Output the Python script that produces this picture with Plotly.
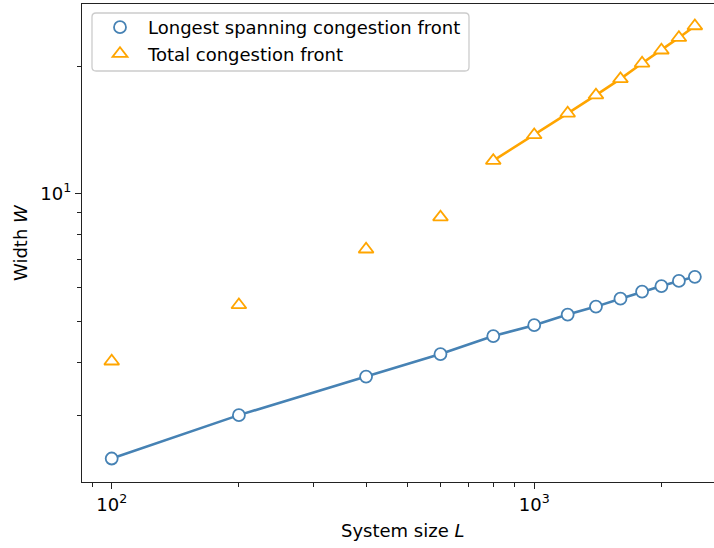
import plotly.graph_objects as go

# Data
L = [100, 200, 400, 600, 800, 1000, 1200, 1400, 1600, 1800, 2000, 2200, 2400]
W_longest = [2.37, 3.00, 3.70, 4.18, 4.61, 4.89, 5.18, 5.41, 5.65, 5.87, 6.05, 6.22, 6.36]
W_total = [4.02, 5.46, 7.39, 8.80, 11.96, 13.75, 15.47, 17.07, 18.65, 20.30, 21.79, 23.33, 24.86]
fit_start = 4  # orange line drawn from L=800 onwards

BLUE = "#4682B4"
ORANGE = "#FFA500"
FONT = "DejaVu Sans"
FS = 18

fig = go.Figure()

# connecting lines (not in legend)
fig.add_trace(go.Scatter(x=L, y=W_longest, mode="lines",
                         line=dict(color=BLUE, width=2.6), showlegend=False, hoverinfo="skip"))
fig.add_trace(go.Scatter(x=L[fit_start:], y=W_total[fit_start:], mode="lines",
                         line=dict(color=ORANGE, width=2.6), showlegend=False, hoverinfo="skip"))

# markers
fig.add_trace(go.Scatter(x=L, y=W_longest, mode="markers", name="Longest spanning congestion front",
                         marker=dict(symbol="circle", size=12, color="white",
                                     line=dict(color=BLUE, width=1.8))))
fig.add_trace(go.Scatter(x=L, y=W_total, mode="markers", name="Total congestion front",
                         marker=dict(symbol="triangle-up", size=13, color="white",
                                     line=dict(color=ORANGE, width=1.8))))

W, H = 714, 548
left, right, top, bottom = 82, 0, 4, 66
PW, PH = W - left - right, H - top - bottom


def px(xp):
    return (xp - left) / PW


def py(yp):
    return (H - bottom - yp) / PH


# legend frame (rounded box) in pixel terms
bx0, bx1, by0, by1, r = 92, 469, 13, 71, 4
path = (f"M {px(bx0 + r)},{py(by0)} L {px(bx1 - r)},{py(by0)} "
        f"Q {px(bx1)},{py(by0)} {px(bx1)},{py(by0 + r)} L {px(bx1)},{py(by1 - r)} "
        f"Q {px(bx1)},{py(by1)} {px(bx1 - r)},{py(by1)} L {px(bx0 + r)},{py(by1)} "
        f"Q {px(bx0)},{py(by1)} {px(bx0)},{py(by1 - r)} L {px(bx0)},{py(by0 + r)} "
        f"Q {px(bx0)},{py(by0)} {px(bx0 + r)},{py(by0)} Z")

x_minor = [90, 200, 300, 400, 500, 600, 700, 800, 900, 2000]
y_minor = [3, 4, 5, 6, 7, 8, 9, 20]

AX = "#222222"
fig.update_layout(
    width=W, height=H,
    margin=dict(l=left, r=right, t=top, b=bottom),
    paper_bgcolor="white", plot_bgcolor="white",
    font=dict(family=FONT, size=FS, color="black"),
    showlegend=True,
    legend=dict(x=px(92), y=py(9), xanchor="left", yanchor="top",
                bgcolor="rgba(0,0,0,0)", borderwidth=0,
                font=dict(family=FONT, size=FS, color="black"),
                itemwidth=46, tracegroupgap=0),
    shapes=[dict(type="path", path=path, xref="paper", yref="paper",
                 fillcolor="rgba(255,255,255,0.8)", line=dict(color="#cccccc", width=1.3),
                 layer="above")],
    xaxis=dict(type="log", range=[1.9297, 3.4255],
               showgrid=False, zeroline=False,
               showline=True, linecolor=AX, linewidth=1.4, mirror=True,
               ticks="outside", ticklen=6, tickwidth=1.3, tickcolor=AX,
               tickmode="array", tickvals=[100, 1000],
               ticktext=["10<sup>2</sup>", "10<sup>3</sup>"],
               tickfont=dict(family=FONT, size=FS, color="black"),
               minor=dict(ticks="outside", ticklen=3.5, tickwidth=1.0, tickcolor=AX,
                          tickmode="array", tickvals=x_minor, showgrid=False)),
    yaxis=dict(type="log", range=[0.3193, 1.4474],
               showgrid=False, zeroline=False,
               showline=True, linecolor=AX, linewidth=1.4, mirror=False,
               ticks="outside", ticklen=6, tickwidth=1.3, tickcolor=AX,
               tickmode="array", tickvals=[10], ticktext=["10<sup>1</sup>"],
               tickfont=dict(family=FONT, size=FS, color="black"),
               minor=dict(ticks="outside", ticklen=3.5, tickwidth=1.0, tickcolor=AX,
                          tickmode="array", tickvals=y_minor, showgrid=False)),
    annotations=[
        dict(text="System size <i>L</i>", xref="paper", yref="paper",
             x=px(403), y=py(530),
             xanchor="center", yanchor="middle", showarrow=False,
             font=dict(family=FONT, size=FS, color="black")),
        dict(text="Width <i>W</i>", xref="paper", yref="paper",
             x=px(20), y=py(243),
             xanchor="center", yanchor="middle", showarrow=False, textangle=-90,
             font=dict(family=FONT, size=FS, color="black")),
    ],
)

fig.write_html("out.html", config={"displayModeBar": False},
               post_script="document.body.style.margin='0';document.body.style.overflow='hidden';")
